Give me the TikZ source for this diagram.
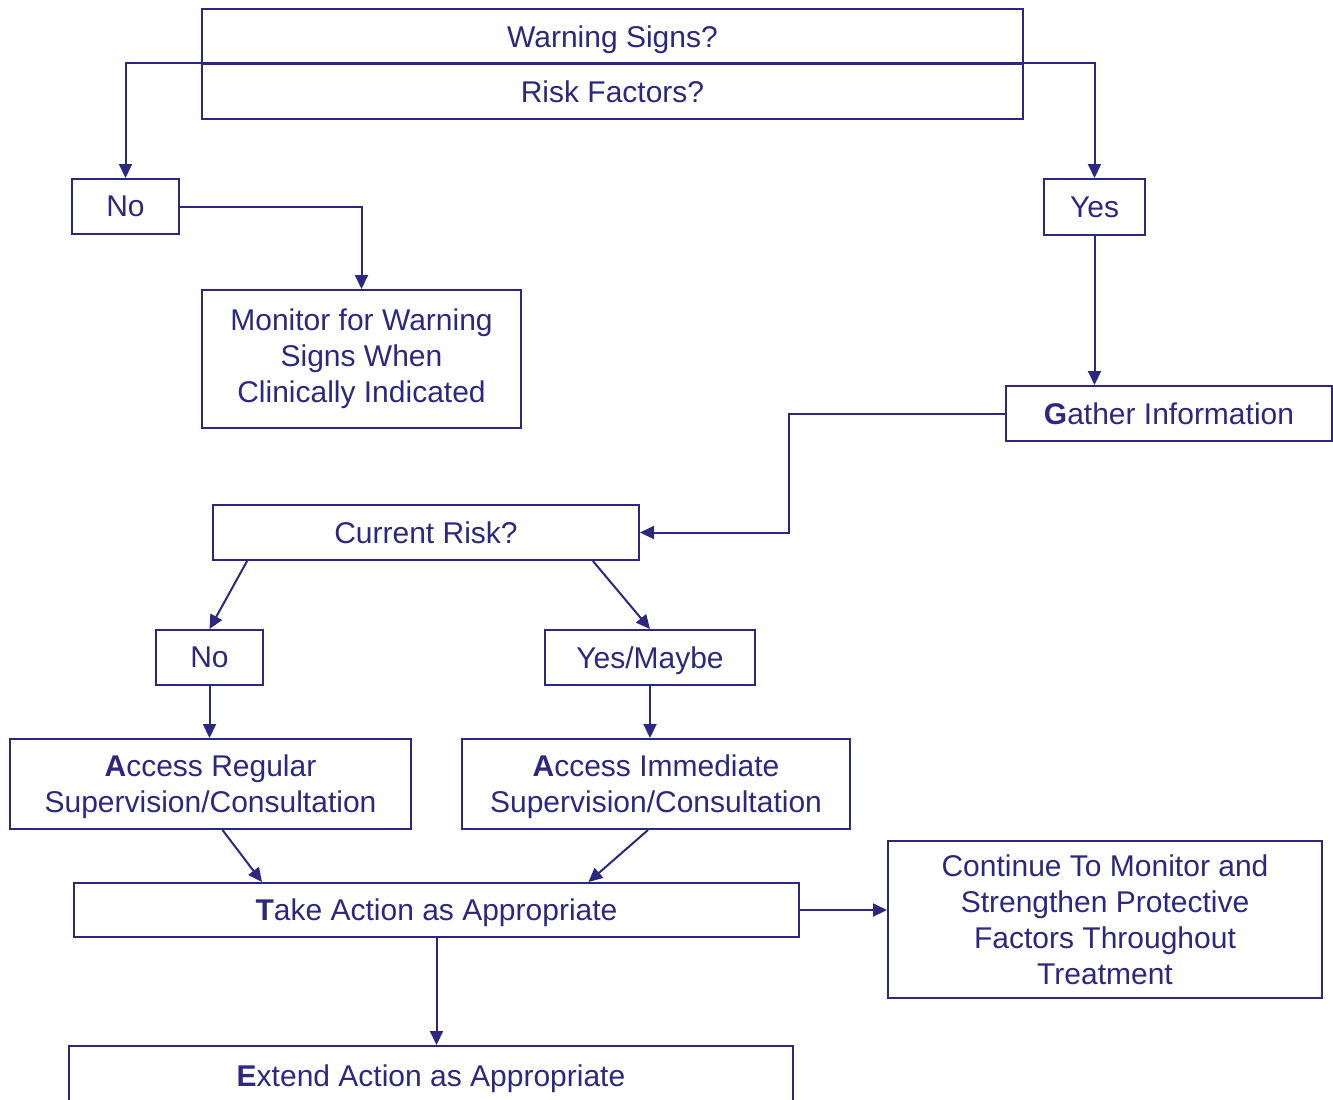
\documentclass[tikz,border=0pt]{standalone}
\usepackage{fontspec}
\setmainfont{Liberation Sans}
\usetikzlibrary{arrows.meta,calc}
\definecolor{flowblue}{RGB}{44,40,128}

\begin{document}
\begin{tikzpicture}[x=0.5pt,y=-0.5pt]
                        \tikzstyle{box}=[draw=flowblue, line width=1pt, inner sep=0pt, align=center, text=flowblue, font=\fontsize{15}{18}\selectfont]
                        \tikzstyle{oneline}=[text depth=0pt]
                        \tikzstyle{arrow}=[draw=flowblue, line width=1pt, -{Triangle[length=7pt,width=6.5pt]}]
                        \useasboundingbox (0,0) rectangle (1333,1099);
                        \clip (0,0) rectangle (1333,1099);
                        \node[box, oneline, minimum width=410.5pt, minimum height=27.5pt] (warning) at (612.5,36.5) {Warning Signs?};
                        \node[box, oneline, minimum width=410.5pt, minimum height=27.5pt] (risk) at (612.5,91.5) {Risk Factors?};
                        \node[box, oneline, minimum width=53.5pt, minimum height=27.5pt] (noA) at (125.5,206.5) {No};
                        \node[box, oneline, minimum width=50.5pt, minimum height=28pt] (yesA) at (1094.5,207) {Yes};
                        \node[box, minimum width=159.5pt, minimum height=69pt] (monitor) at (361.5,359) {Monitor for Warning\\Signs When\\Clinically Indicated};
                        \node[box, oneline, minimum width=163pt, minimum height=27.5pt] (gather) at (1169,413.5) {\textbf{G}ather Information};
                        \node[box, oneline, minimum width=213pt, minimum height=27.5pt] (current) at (426,532.5) {Current Risk?};
                        \node[box, oneline, minimum width=53.5pt, minimum height=27.5pt] (noB) at (209.5,657.5) {No};
                        \node[box, oneline, minimum width=105pt, minimum height=27.5pt] (maybe) at (650,657.5) {Yes/Maybe};
                        \node[box, oneline, minimum width=200.5pt, minimum height=45pt] (regular) at (210.5,784) {\textbf{A}ccess Regular\\Supervision/Consultation};
                        \node[box, oneline, minimum width=194pt, minimum height=45pt] (immediate) at (656,784) {\textbf{A}ccess Immediate\\Supervision/Consultation};
                        \node[box, oneline, minimum width=362.5pt, minimum height=27pt] (take) at (436.5,910) {\textbf{T}ake Action as Appropriate};
                        \node[box, minimum width=217pt, minimum height=78.5pt] (continue) at (1105,919.5) {Continue To Monitor and\\Strengthen Protective\\Factors Throughout\\Treatment};
                        \node[box, oneline, minimum width=362pt, minimum height=30pt] (extend) at (431,1076) {\textbf{E}xtend Action as Appropriate};
                        \coordinate (split) at (risk.north);
                        \draw[arrow] (split) -| (noA.north);
                        \draw[arrow] (split) -| (yesA.north);
                        \draw[arrow] (noA.east) -| (monitor.north);
                        \draw[arrow] (yesA.south) -- (yesA.south |- gather.north);
                        \draw[arrow] (gather.west) -- ++(-216,0) |- (current.east);
                        \draw[arrow] ($(current.south west)!0.082!(current.south east)$) -- (noB.north);
                        \draw[arrow] ($(current.south west)!0.89!(current.south east)$) -- (maybe.north);
                        \draw[arrow] (noB.south) -- (noB.south |- regular.north);
                        \draw[arrow] (maybe.south) -- (maybe.south |- immediate.north);
                        \draw[arrow] ($(regular.south)+(12,0)$) -- ($(take.north west)!0.26!(take.north east)$);
                        \draw[arrow] ($(immediate.south)+(-8,0)$) -- ($(take.north west)!0.709!(take.north east)$);
                        \draw[arrow] (take.east) -- (take.east -| continue.west);
                        \draw[arrow] (take.south) -- (take.south |- extend.north);
                    \end{tikzpicture}
\end{document}
